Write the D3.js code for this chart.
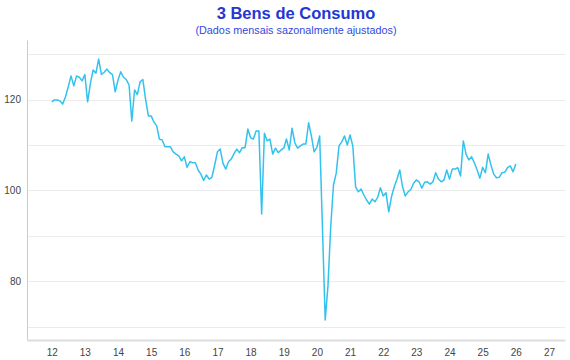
<!DOCTYPE html>
<html>
<head>
    <meta charset="utf-8">
    <script src="https://cdn.jsdelivr.net/npm/d3@7/dist/d3.min.js"></script>
    <style type="text/css">
        body { margin: 0; background: white; }

        text.title {
            font-family: "Liberation Sans", Arial, sans-serif;
            font-size: 16.5px;
            font-weight: bold;
            fill: #2636d0;
            text-anchor: middle; }

        text.subtitle {
            font-family: "Liberation Sans", Arial, sans-serif;
            font-size: 10.8px;
            fill: #3448dc;
            text-anchor: middle; }

        .axis text {
            font-family: "Liberation Sans", Arial, sans-serif;
            font-size: 10px;
            fill: #444; }

        .grid line {
            stroke: #ebebeb;
            stroke-width: 1;
            shape-rendering: crispEdges; }

        .line {
            fill: none;
            stroke: #33c2ee;
            stroke-width: 1.5;
            stroke-linejoin: round; }
    </style>
</head>
<body>
    <div id="chart"></div>

    <script type="text/javascript">
        // monthly series, first point Jan 2012
        var startYear = 2012;
        var values = [
            119.5, 119.9, 119.9, 119.7, 119.0, 120.6, 122.8, 125.2, 123.0, 125.2, 124.9, 124.1,
            125.5, 119.5, 123.5, 126.5, 125.8, 128.9, 125.5, 126.0, 126.7, 125.9, 125.5, 121.7,
            124.3, 126.1, 124.9, 124.4, 123.2, 115.3, 122.1, 121.1, 123.9, 124.4, 120.0, 116.4,
            116.4, 115.1, 114.2, 111.3, 111.1, 109.6, 109.6, 109.6, 108.5, 108.0, 107.6, 106.5,
            107.4, 105.1, 106.3, 106.1, 106.1, 104.5, 103.6, 102.2, 103.4, 102.5, 102.9, 105.6,
            108.5, 109.1, 106.0, 104.7, 106.3, 106.9, 108.1, 109.1, 108.3, 109.4, 109.4, 113.5,
            111.6, 111.3, 113.1, 113.1, 94.8, 112.6, 110.9, 111.3, 108.0, 109.3, 108.3, 108.9,
            109.3, 111.3, 108.9, 113.7, 110.5, 109.3, 109.8, 110.2, 110.2, 114.9, 112.0, 108.5,
            109.5, 112.0, 92.0, 71.5, 79.0, 92.0, 101.2, 103.8, 109.8, 110.7, 112.0, 110.0,
            112.2, 109.8, 100.8, 99.7, 100.3, 99.0, 97.9, 97.0, 98.1, 97.5, 98.5, 100.6,
            98.8, 99.5, 95.3, 98.6, 100.8, 102.5, 104.5, 100.8, 98.8, 99.7, 100.2, 101.6,
            102.3, 101.9, 100.5, 101.8, 101.9, 101.4, 101.9, 103.9, 102.5, 101.9, 102.3, 104.5,
            102.5, 104.7, 104.7, 105.0, 103.2, 110.9, 108.0, 106.7, 107.4, 106.1, 104.5, 102.7,
            105.1, 103.9, 108.0, 105.6, 103.6, 102.8, 102.9, 103.9, 104.0, 105.0, 105.4, 104.1,
            105.8
        ];
        var yearTicks = [2012, 2013, 2014, 2015, 2016, 2017, 2018, 2019, 2020,
                         2021, 2022, 2023, 2024, 2025, 2026, 2027];
        var labelTicks = [80, 100, 120];
        var gridTicks = [70, 80, 90, 100, 110, 120, 130];

        var width = 570, height = 360;
        var margin = { top: 40, left: 27, bottom: 20, right: 5 };

        var svg = d3.select("#chart").append("svg")
            .attr("width", width)
            .attr("height", height);

        var x = d3.scaleLinear()
            .domain([2011.255, 2027.484])
            .range([margin.left, width - margin.right]);

        var y = d3.scaleLinear()
            .domain([67.1, 133.1])
            .range([height - margin.bottom, margin.top]);

        // gridlines
        svg.append("g")
            .attr("class", "grid")
            .selectAll("line")
            .data(gridTicks)
            .enter().append("line")
            .attr("x1", margin.left)
            .attr("x2", width - margin.right)
            .attr("y1", function (d) { return Math.round(y(d)) + 0.5; })
            .attr("y2", function (d) { return Math.round(y(d)) + 0.5; });

        // left axis
        var yAxis = d3.axisLeft(y)
            .tickValues(labelTicks)
            .tickSize(0)
            .tickPadding(6)
            .tickFormat(d3.format("d"));

        var gy = svg.append("g")
            .attr("class", "axis")
            .attr("transform", "translate(" + margin.left + ",0)")
            .call(yAxis);
        gy.select(".domain").attr("stroke", "#cccccc");

        // bottom axis
        var xAxis = d3.axisBottom(x)
            .tickValues(yearTicks)
            .tickSize(0)
            .tickPadding(9)
            .tickFormat(function (d) { return String(d).slice(2); });

        var gx = svg.append("g")
            .attr("class", "axis")
            .attr("transform", "translate(0," + (height - margin.bottom) + ")")
            .call(xAxis);
        gx.select(".domain")
            .attr("stroke", "#dddddd")
            .attr("stroke-width", 2);

        // series
        var line = d3.line()
            .x(function (d, i) { return x(startYear + i / 12); })
            .y(function (d) { return y(d); });

        svg.append("path")
            .datum(values)
            .attr("class", "line")
            .attr("d", line);

        // titles
        var cx = (margin.left + width - margin.right) / 2;
        svg.append("text")
            .attr("class", "title")
            .attr("x", cx)
            .attr("y", 19)
            .text("3 Bens de Consumo");

        svg.append("text")
            .attr("class", "subtitle")
            .attr("x", cx)
            .attr("y", 34)
            .text("(Dados mensais sazonalmente ajustados)");
    </script>
</body>
</html>
